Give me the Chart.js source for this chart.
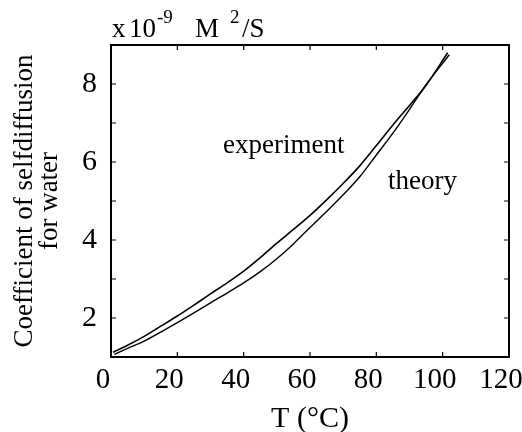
<!DOCTYPE html>
<html>
<head>
<meta charset="utf-8">
<script src="https://cdn.jsdelivr.net/npm/chart.js@4.4.1/dist/chart.umd.min.js"></script>
<style>
  html, body { margin: 0; padding: 0; background: #fff; }
  #wrap { width: 522px; height: 432px; }
</style>
</head>
<body>
<div id="wrap"><canvas id="chart" width="522" height="432"></canvas></div>
<script>
// self-diffusion coefficient of water, units of 1e-9 m^2/s
const expT = [0.6, 5, 10, 15, 20, 25, 30, 35, 40, 45, 50, 55, 60, 65, 70, 75, 80, 85, 90, 95, 101.5];
const expD = [1.12, 1.30, 1.53, 1.79, 2.05, 2.33, 2.62, 2.90, 3.20, 3.55, 3.92, 4.27, 4.63, 5.03, 5.45, 5.90, 6.42, 6.95, 7.45, 7.97, 8.80];

const theoryT = [1, 5, 10, 15, 20, 25, 30, 35, 40, 45, 50, 55, 60, 65, 70, 75, 80, 85, 90, 95, 102];
const theoryD = [1.07, 1.22, 1.41, 1.64, 1.88, 2.13, 2.39, 2.64, 2.90, 3.19, 3.52, 3.90, 4.32, 4.73, 5.16, 5.62, 6.18, 6.74, 7.35, 7.98, 8.75];

const xTicks = [0, 20, 40, 60, 80, 100, 120];
const yTickLabels = [2, 4, 6, 8];

const curveLabels = [
    { text: 'experiment', x: 33.8, y: 6.22 },
    { text: 'theory', x: 83.5, y: 5.3 }
];

const SERIF = '"Liberation Serif", "DejaVu Serif", serif';

function toPoints(xs, ys) {
    return xs.map((v, i) => ({ x: v, y: ys[i] }));
}

// frame, inward ticks, curve labels and the unit label on top
const extrasPlugin = {
    id: 'extras',
    afterDatasetsDraw(chart) {
        const { ctx, chartArea: a, scales: { x, y } } = chart;
        ctx.save();
        ctx.strokeStyle = '#000';
        ctx.lineWidth = 2;
        ctx.strokeRect(a.left, a.top, a.right - a.left, a.bottom - a.top);

        ctx.lineWidth = 1.2;
        ctx.beginPath();
        x.ticks.forEach(t => {
            const px = x.getPixelForValue(t.value);
            ctx.moveTo(px, a.bottom); ctx.lineTo(px, a.bottom - 5);
            ctx.moveTo(px, a.top); ctx.lineTo(px, a.top + 5);
        });
        y.ticks.forEach(t => {
            const py = y.getPixelForValue(t.value);
            ctx.moveTo(a.left, py); ctx.lineTo(a.left + 5, py);
            ctx.moveTo(a.right, py); ctx.lineTo(a.right - 5, py);
        });
        ctx.stroke();

        ctx.fillStyle = '#000';
        ctx.textBaseline = 'alphabetic';
        ctx.textAlign = 'left';
        ctx.font = '27px ' + SERIF;
        curveLabels.forEach(l => {
            ctx.fillText(l.text, x.getPixelForValue(l.x), y.getPixelForValue(l.y));
        });

        // x 10^-9 M^2/S
        ctx.font = '27px ' + SERIF;
        ctx.fillText('x', 112, 37);
        ctx.fillText('10', 129, 37);
        ctx.fillText('M', 195, 37);
        ctx.fillText('/S', 242, 37);
        ctx.font = '19px ' + SERIF;
        ctx.fillText('-9', 157, 23);
        ctx.fillText('2', 230, 23);
        ctx.restore();
    }
};

new Chart(document.getElementById('chart'), {
    type: 'line',
    data: {
        datasets: [
            {
                label: 'experiment',
                data: toPoints(expT, expD),
                borderColor: '#000',
                borderWidth: 1.6,
                pointRadius: 0,
                fill: false,
                cubicInterpolationMode: 'monotone'
            },
            {
                label: 'theory',
                data: toPoints(theoryT, theoryD),
                borderColor: '#000',
                borderWidth: 1.4,
                pointRadius: 0,
                fill: false,
                cubicInterpolationMode: 'monotone'
            }
        ]
    },
    options: {
        responsive: false,
        animation: false,
        events: [],
        layout: { autoPadding: false, padding: { left: 0, top: 45, right: 13, bottom: 0 } },
        plugins: {
            legend: { display: false },
            tooltip: { enabled: false }
        },
        scales: {
            x: {
                type: 'linear',
                min: 0,
                max: 120,
                afterBuildTicks: s => { s.ticks = xTicks.map(v => ({ value: v })); },
                afterFit: s => { s.height = 75; s.paddingLeft = 0; s.paddingRight = 0; },
                grid: { display: false, drawTicks: false },
                border: { display: false },
                ticks: {
                    color: '#000',
                    padding: 6,
                    labelOffset: -8,
                    maxRotation: 0,
                    font: { family: SERIF, size: 29 }
                },
                title: {
                    display: true,
                    text: 'T (°C)',
                    color: '#000',
                    padding: { top: 0, bottom: -2 },
                    font: { family: SERIF, size: 30, lineHeight: 1 }
                }
            },
            y: {
                type: 'linear',
                min: 1,
                max: 9,
                afterFit: s => { s.width = 111; s.paddingTop = 0; s.paddingBottom = 0; },
                grid: { display: false, drawTicks: false },
                border: { display: false },
                ticks: {
                    stepSize: 1,
                    color: '#000',
                    padding: 14,
                    font: { family: SERIF, size: 30 },
                    callback: v => yTickLabels.includes(v) ? String(v) : ''
                },
                title: {
                    display: true,
                    text: ['Coefficient of selfdiffusion', 'for water'],
                    color: '#000',
                    padding: { top: 13, bottom: 0 },
                    font: { family: SERIF, size: 27, lineHeight: 0.9 }
                }
            }
        }
    },
    plugins: [extrasPlugin]
});
</script>
</body>
</html>
